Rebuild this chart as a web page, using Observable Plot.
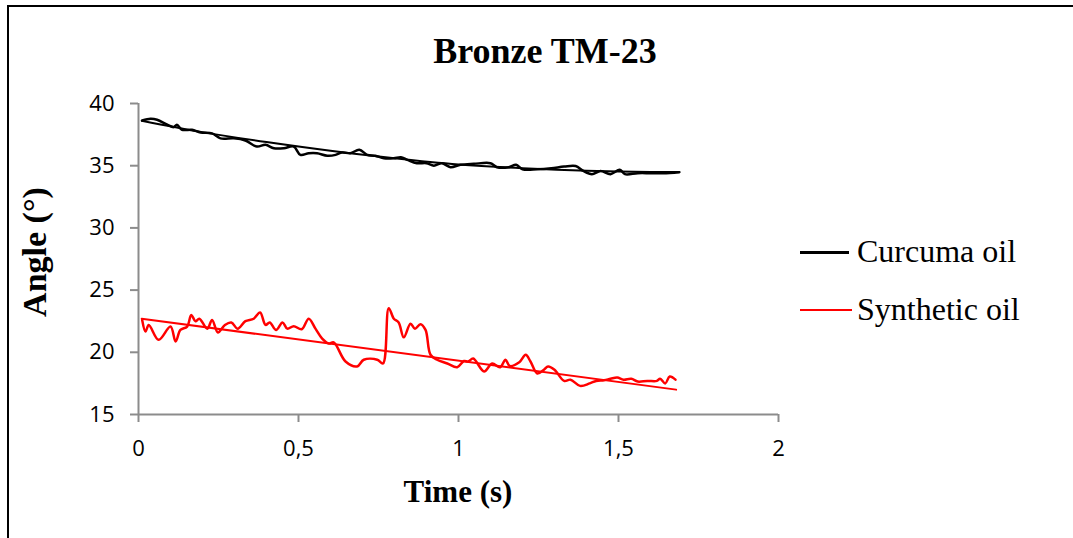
<!DOCTYPE html>
<html>
<head>
<meta charset="utf-8">
<script src="https://cdn.jsdelivr.net/npm/d3@7"></script>
<script src="https://cdn.jsdelivr.net/npm/@observablehq/plot@0.6"></script>
<style>
  html, body { margin: 0; padding: 0; background: #fff; }
  #wrap { position: relative; width: 1073px; height: 538px; overflow: hidden; background: #fff; }
  #frame { position: absolute; left: 7px; top: 5px; width: 1100px; height: 600px; border-left: 2px solid #000; border-top: 2px solid #000; box-sizing: border-box; }
  #chart { position: absolute; left: 0; top: 0; }
  .t { position: absolute; font-family: "Liberation Serif", "Times New Roman", serif; color: #000; white-space: nowrap; line-height: 1; }
  #title { left: 0; width: 1090px; top: 33px; text-align: center; font-weight: bold; font-size: 36px; }
  #xlabel { left: 0; width: 916px; top: 476px; text-align: center; font-weight: bold; font-size: 31px; }
  #ylabel { left: 35px; top: 252px; font-weight: bold; font-size: 34px; transform: translate(-50%, -50%) rotate(-90deg); }
  .sw { position: absolute; left: 800px; width: 49px; }
  .lt { left: 857px; font-size: 32px; }
</style>
</head>
<body>
<div id="wrap">
  <div id="frame"></div>
  <div id="chart"></div>
  <div class="t" id="title">Bronze TM-23</div>
  <div class="t" id="xlabel">Time (s)</div>
  <div class="t" id="ylabel">Angle (°)</div>
  <div class="sw" style="top:251px;height:3px;background:#000;"></div>
  <div class="t lt" style="top:235px;">Curcuma oil</div>
  <div class="sw" style="top:309px;height:2px;background:#ff0000;width:52px;"></div>
  <div class="t lt" style="top:293px;">Synthetic oil</div>
</div>
<script>
// ---- data ----
const curcumaT = [0.0115,0.0375,0.058,0.09,0.11,0.12,0.136,0.167,0.194,0.23,0.256,0.298,0.334,0.37,0.397,0.423,0.454,0.485,0.506,0.532,0.558,0.59,0.616,0.636,0.662,0.69,0.715,0.74,0.767,0.798,0.82,0.84,0.87,0.9,0.923,0.948,0.975,1.006,1.048,1.1,1.12,1.157,1.18,1.2,1.246,1.29,1.33,1.366,1.39,1.417,1.444,1.475,1.504,1.52,1.56,1.6,1.64,1.69];
const curcumaV = [38.63,38.77,38.69,38.29,38.1,38.29,37.89,37.89,37.67,37.6,37.2,37.2,37.03,36.54,36.68,36.4,36.4,36.54,35.87,36.0,36.0,35.8,35.87,36.06,36.0,36.28,35.87,35.8,35.6,35.6,35.68,35.47,35.2,35.2,35.0,35.2,34.88,35.07,35.15,35.2,34.88,34.88,35.07,34.72,34.72,34.8,34.93,34.98,34.58,34.32,34.58,34.32,34.67,34.32,34.4,34.4,34.4,34.48];
const curcumaTrendT = [0.01,0.2,0.4,0.6,0.8,1.0,1.2,1.4,1.6,1.69];
const curcumaTrendV = [38.62,37.7,36.9,36.2,35.6,35.1,34.8,34.6,34.5,34.5];

const syntheticT = [0.0115,0.022,0.032,0.063,0.1,0.116,0.131,0.152,0.165,0.178,0.19,0.215,0.23,0.248,0.27,0.29,0.31,0.334,0.36,0.38,0.397,0.41,0.43,0.45,0.465,0.485,0.51,0.532,0.553,0.574,0.595,0.61,0.647,0.683,0.704,0.746,0.764,0.782,0.798,0.813,0.829,0.85,0.864,0.881,0.897,0.9125,0.933,0.965,0.996,1.017,1.03,1.046,1.08,1.105,1.13,1.147,1.16,1.19,1.21,1.225,1.246,1.267,1.28,1.3,1.33,1.35,1.38,1.41,1.43,1.455,1.475,1.496,1.516,1.54,1.56,1.59,1.62,1.63,1.646,1.66,1.678];
const syntheticV = [22.6,21.67,22.2,21.0,22.07,20.87,21.8,22.07,23.0,22.5,22.7,21.9,22.6,21.6,22.2,22.4,21.9,22.5,22.7,23.2,22.2,22.4,21.8,22.4,21.9,22.1,21.85,22.7,21.9,21.1,20.7,20.8,19.26,18.86,19.4,19.4,19.1,23.55,22.7,22.4,21.2,22.3,21.9,22.26,21.8,19.8,19.4,19.1,18.8,19.3,19.26,19.5,18.46,19.1,18.8,19.4,18.9,19.2,19.8,19.26,18.3,18.6,18.86,18.6,17.7,17.8,17.3,17.5,17.7,17.76,17.87,17.97,17.8,17.87,17.65,17.7,17.7,17.87,17.5,18.05,17.8];
const syntheticTrendT = [0.01,1.68];
const syntheticTrendV = [22.7,17.0];

const xTicks = [0,0.5,1,1.5,2];
const yTicks = [15,20,25,30,35,40];

const pts = (T, V) => T.map((t, i) => ({t, v: V[i]}));
const curcuma = pts(curcumaT, curcumaV);
const curcumaTrend = pts(curcumaTrendT, curcumaTrendV);
const synthetic = pts(syntheticT, syntheticV);
const syntheticTrend = pts(syntheticTrendT, syntheticTrendV);

const tickFont = {fontFamily: "'Open Sans', sans-serif", fontSize: 22};
const fmt = d => String(d).replace(".", ",");

const chart = Plot.plot({
  width: 1073,
  height: 538,
  marginLeft: 138,
  marginRight: 295,
  marginTop: 103,
  marginBottom: 124,
  style: {background: "transparent", overflow: "visible"},
  x: {domain: [0, 2]},
  y: {domain: [15, 40]},
  marks: [
    Plot.axisY({ticks: yTicks, tickFormat: d => String(d), tickSize: 8, tickPadding: 16, stroke: "#8c8c8c", strokeWidth: 2, fill: "#000", label: null, ...tickFont}),
    Plot.axisX({ticks: xTicks, tickFormat: fmt, tickSize: 8, tickPadding: 18, stroke: "#8c8c8c", strokeWidth: 2, fill: "#000", label: null, ...tickFont}),
    Plot.ruleX([0], {y1: 15, y2: 40, stroke: "#8c8c8c", strokeWidth: 2}),
    Plot.ruleY([15], {x1: 0, x2: 2, stroke: "#8c8c8c", strokeWidth: 2}),
    Plot.line(curcumaTrend, {x: "t", y: "v", stroke: "#000", strokeWidth: 2, curve: "natural"}),
    Plot.line(curcuma, {x: "t", y: "v", stroke: "#000", strokeWidth: 2.5, curve: "catmull-rom"}),
    Plot.line(syntheticTrend, {x: "t", y: "v", stroke: "#ff0000", strokeWidth: 2}),
    Plot.line(synthetic, {x: "t", y: "v", stroke: "#ff0000", strokeWidth: 2.5, curve: "catmull-rom"})
  ]
});
document.getElementById("chart").appendChild(chart);
</script>
</body>
</html>
